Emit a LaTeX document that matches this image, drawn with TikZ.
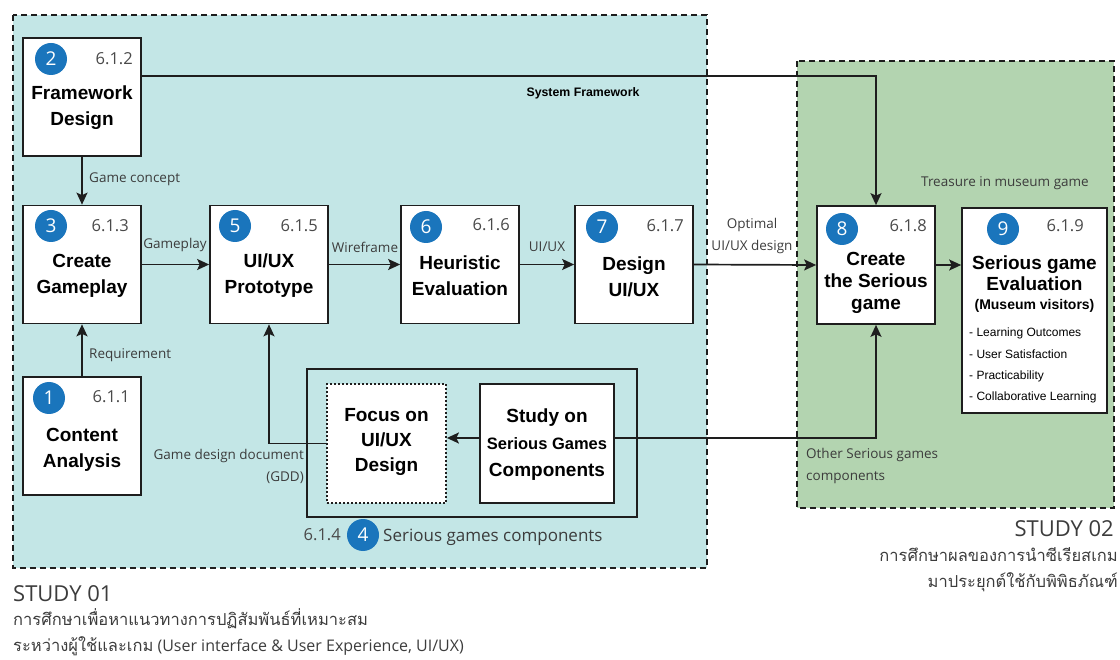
\documentclass[tikz,border=0pt]{standalone}
\usepackage{fontspec}
\setmainfont{Open Sans}
\newfontfamily\hd{Liberation Sans}
\newfontfamily\thai[Script=Thai]{Loma}
\usetikzlibrary{arrows.meta}
\definecolor{bluebg}{HTML}{C3E6E6}
\definecolor{greenbg}{HTML}{B3D4B0}
\definecolor{numblue}{HTML}{1A75BC}
\definecolor{linec}{HTML}{1E1E1E}
\definecolor{lblgray}{HTML}{3C3C3C}
\definecolor{vergray}{HTML}{4A4A4A}
\newcommand\fsz[2]{\fontsize{#1}{#2}\selectfont}
\tikzset{
  region/.style={draw=linec, line width=1.5pt, dash pattern=on 6pt off 4pt},
  stagebox/.style={draw=linec, line width=1.7pt, fill=white, minimum width=118, minimum height=118, inner sep=0},
  title/.style={font=\hd\bfseries\fsz{19}{26}, align=center, text=black, inner sep=0},
  num/.style={circle, fill=numblue, text=white, minimum size=32, inner sep=0, font=\fsz{19}{19}},
  ver/.style={anchor=east, text=vergray, font=\fsz{16.5}{18}, inner sep=0},
  lbl/.style={text=lblgray, font=\fsz{13.5}{22}, inner sep=0},
  arr/.style={draw=linec, line width=1.7pt, -{Stealth[length=12pt,width=11pt,inset=2.5pt]}},
  item/.style={anchor=west, font=\hd\fsz{12}{14}, inner sep=0, text=black}
}
\begin{document}
\begin{tikzpicture}[x=1pt, y=-1pt]
\useasboundingbox (0,0) rectangle (1120,660);

% study areas
\draw[region, fill=bluebg] (13,15) rectangle (707,568);
\draw[region, fill=greenbg] (797,61) rectangle (1114,508);

% stage boxes
\node[stagebox] (b2) at (82,97) {};
\node[stagebox] (b3) at (82,264.5) {};
\node[stagebox] (b1) at (82,436) {};
\node[stagebox] (b5) at (269,264.5) {};
\node[stagebox] (b6) at (460,264.5) {};
\node[stagebox] (b7) at (634,264.5) {};
\node[stagebox] (b8) at (876,265) {};
\node[stagebox, minimum width=145, minimum height=205] (b9) at (1034.5,310.5) {};

% serious games components group
\node[draw=linec, line width=1.7pt, minimum width=330, minimum height=148, inner sep=0] (grp) at (472,443) {};
\node[draw=linec, line width=1.8pt, dash pattern=on 2pt off 2pt, fill=white, minimum width=119, minimum height=119, inner sep=0] (focus) at (386.5,443.5) {};
\node[stagebox, minimum width=134, minimum height=119] (study) at (547,443.5) {};

% titles
\node[title] (t2) at (82,108) {Framework\\Design};
\node[title] (t3) at (82,276) {Create\\Gameplay};
\node[title] (t1) at (82,450) {Content\\Analysis};
\node[title] (t5) at (269,276) {UI/UX\\Prototype};
\node[title] (t6) at (460,276) {Heuristic\\Evaluation};
\node[title] (t7) at (634,277) {Design\\UI/UX};
\node[title, font=\hd\bfseries\fsz{19}{22}] (t8) at (876,283) {Create\\the Serious\\game};
\node[title, font=\hd\bfseries\fsz{19}{21}] (t9) at (1034.5,273) {Serious game\\Evaluation};
\node[title, font=\hd\bfseries\fsz{14}{16}] (t9b) at (1034.5,306) {(Museum visitors)};
\node[title, font=\hd\bfseries\fsz{19}{25}] (tf) at (386.5,442) {Focus on\\UI/UX\\Design};
\node[title, font=\hd\bfseries\fsz{19}{27}] (ts) at (547,445) {Study on\\{\fsz{16.5}{27}Serious Games}\\Components};

% evaluation items
\node[item] (i1) at (969,333) {- Learning Outcomes};
\node[item] (i2) at (969,354) {- User Satisfaction};
\node[item] (i3) at (969,376) {- Practicability};
\node[item] (i4) at (969,397) {- Collaborative Learning};

% step numbers
\node[num] (n2) at (51,59) {2};
\node[num] (n3) at (51,226) {3};
\node[num] (n1) at (49,398) {1};
\node[num] (n5) at (235,226) {5};
\node[num] (n6) at (426,227) {6};
\node[num] (n7) at (602,227) {7};
\node[num] (n8) at (842,229) {8};
\node[num] (n9) at (1003,229) {9};
\node[num] (n4) at (363,535) {4};

% section numbers
\node[ver] (v2) at (133,59) {6.1.2};
\node[ver] (v3) at (129,226) {6.1.3};
\node[ver] (v1) at (130,397) {6.1.1};
\node[ver] (v5) at (318,226) {6.1.5};
\node[ver] (v6) at (510,225) {6.1.6};
\node[ver] (v7) at (684,226) {6.1.7};
\node[ver] (v8) at (927,226) {6.1.8};
\node[ver] (v9) at (1084,226) {6.1.9};
\node[ver] (v4) at (341,535) {6.1.4};
\node[lbl, anchor=west, font=\fsz{17}{20}] (l4) at (383,537) {Serious games components};

% connectors
\coordinate (fw) at (876,76);
\draw[arr] (b2.east |- fw) -- (fw) -- (b8.north);
\draw[arr] (b2.south) -- (b3.north);
\draw[arr] (b1.north) -- (b3.south);
\draw[arr] (b3.east) -- (b5.west);
\draw[arr] (b5.east) -- (b6.west);
\draw[arr] (b6.east) -- (b7.west);
\draw[arr] (b7.east) -- (b8.west);
\draw[arr] (b8.east) -- (b8.east -| b9.west);
\draw[arr] (focus.west) -| (b5.south);
\coordinate (sg) at (876,438);
\draw[arr] (study.west |- sg) -- (focus.east |- sg);
\draw[arr] (study.east |- sg) -- (sg) -- (b8.south);

% connector labels
\node[title, font=\hd\bfseries\fsz{12.3}{14}] (sf) at (583,93) {System Framework};
\node[lbl, anchor=west] (lgc) at (89,179) {Game concept};
\node[lbl, anchor=west] (lrq) at (89,355) {Requirement};
\node[lbl] (lgp) at (175,245) {Gameplay};
\node[lbl] (lwf) at (365,247) {Wireframe};
\node[lbl] (lux) at (547,247) {UI/UX};
\node[lbl, align=center] (lop) at (752,236) {Optimal\\UI/UX design};
\node[lbl, align=right, anchor=east] (lgdd) at (304,466) {Game design document\\(GDD)};
\node[lbl, align=left, anchor=west] (los) at (806,466) {Other Serious games\\components};
\node[lbl] (ltr) at (1005,183) {Treasure in museum game};

% study captions
\node[anchor=west, inner sep=0, text=lblgray, font=\fsz{22}{24}] (s1) at (13,594) {STUDY 01};
\node[anchor=west, inner sep=0, text=lblgray, font=\fsz{16}{26}, align=left] (s1t) at (13,632)
  {{\thai\fsz{16.5}{26}การศึกษาเพื่อหาแนวทางการปฏิสัมพันธ์ที่เหมาะสม}\\{\thai\fsz{16.5}{26}ระหว่างผู้ใช้และเกม} (User interface \& User Experience, UI/UX)};
\node[anchor=east, inner sep=0, text=lblgray, font=\fsz{22}{24}] (s2) at (1114,529) {STUDY 02};
\node[anchor=east, inner sep=0, text=lblgray, font=\thai\fsz{16.5}{26}, align=right] (s2t) at (1118,570)
  {การศึกษาผลของการนำซีเรียสเกม\\มาประยุกต์ใช้กับพิพิธภัณฑ์};
\end{tikzpicture}
\end{document}
